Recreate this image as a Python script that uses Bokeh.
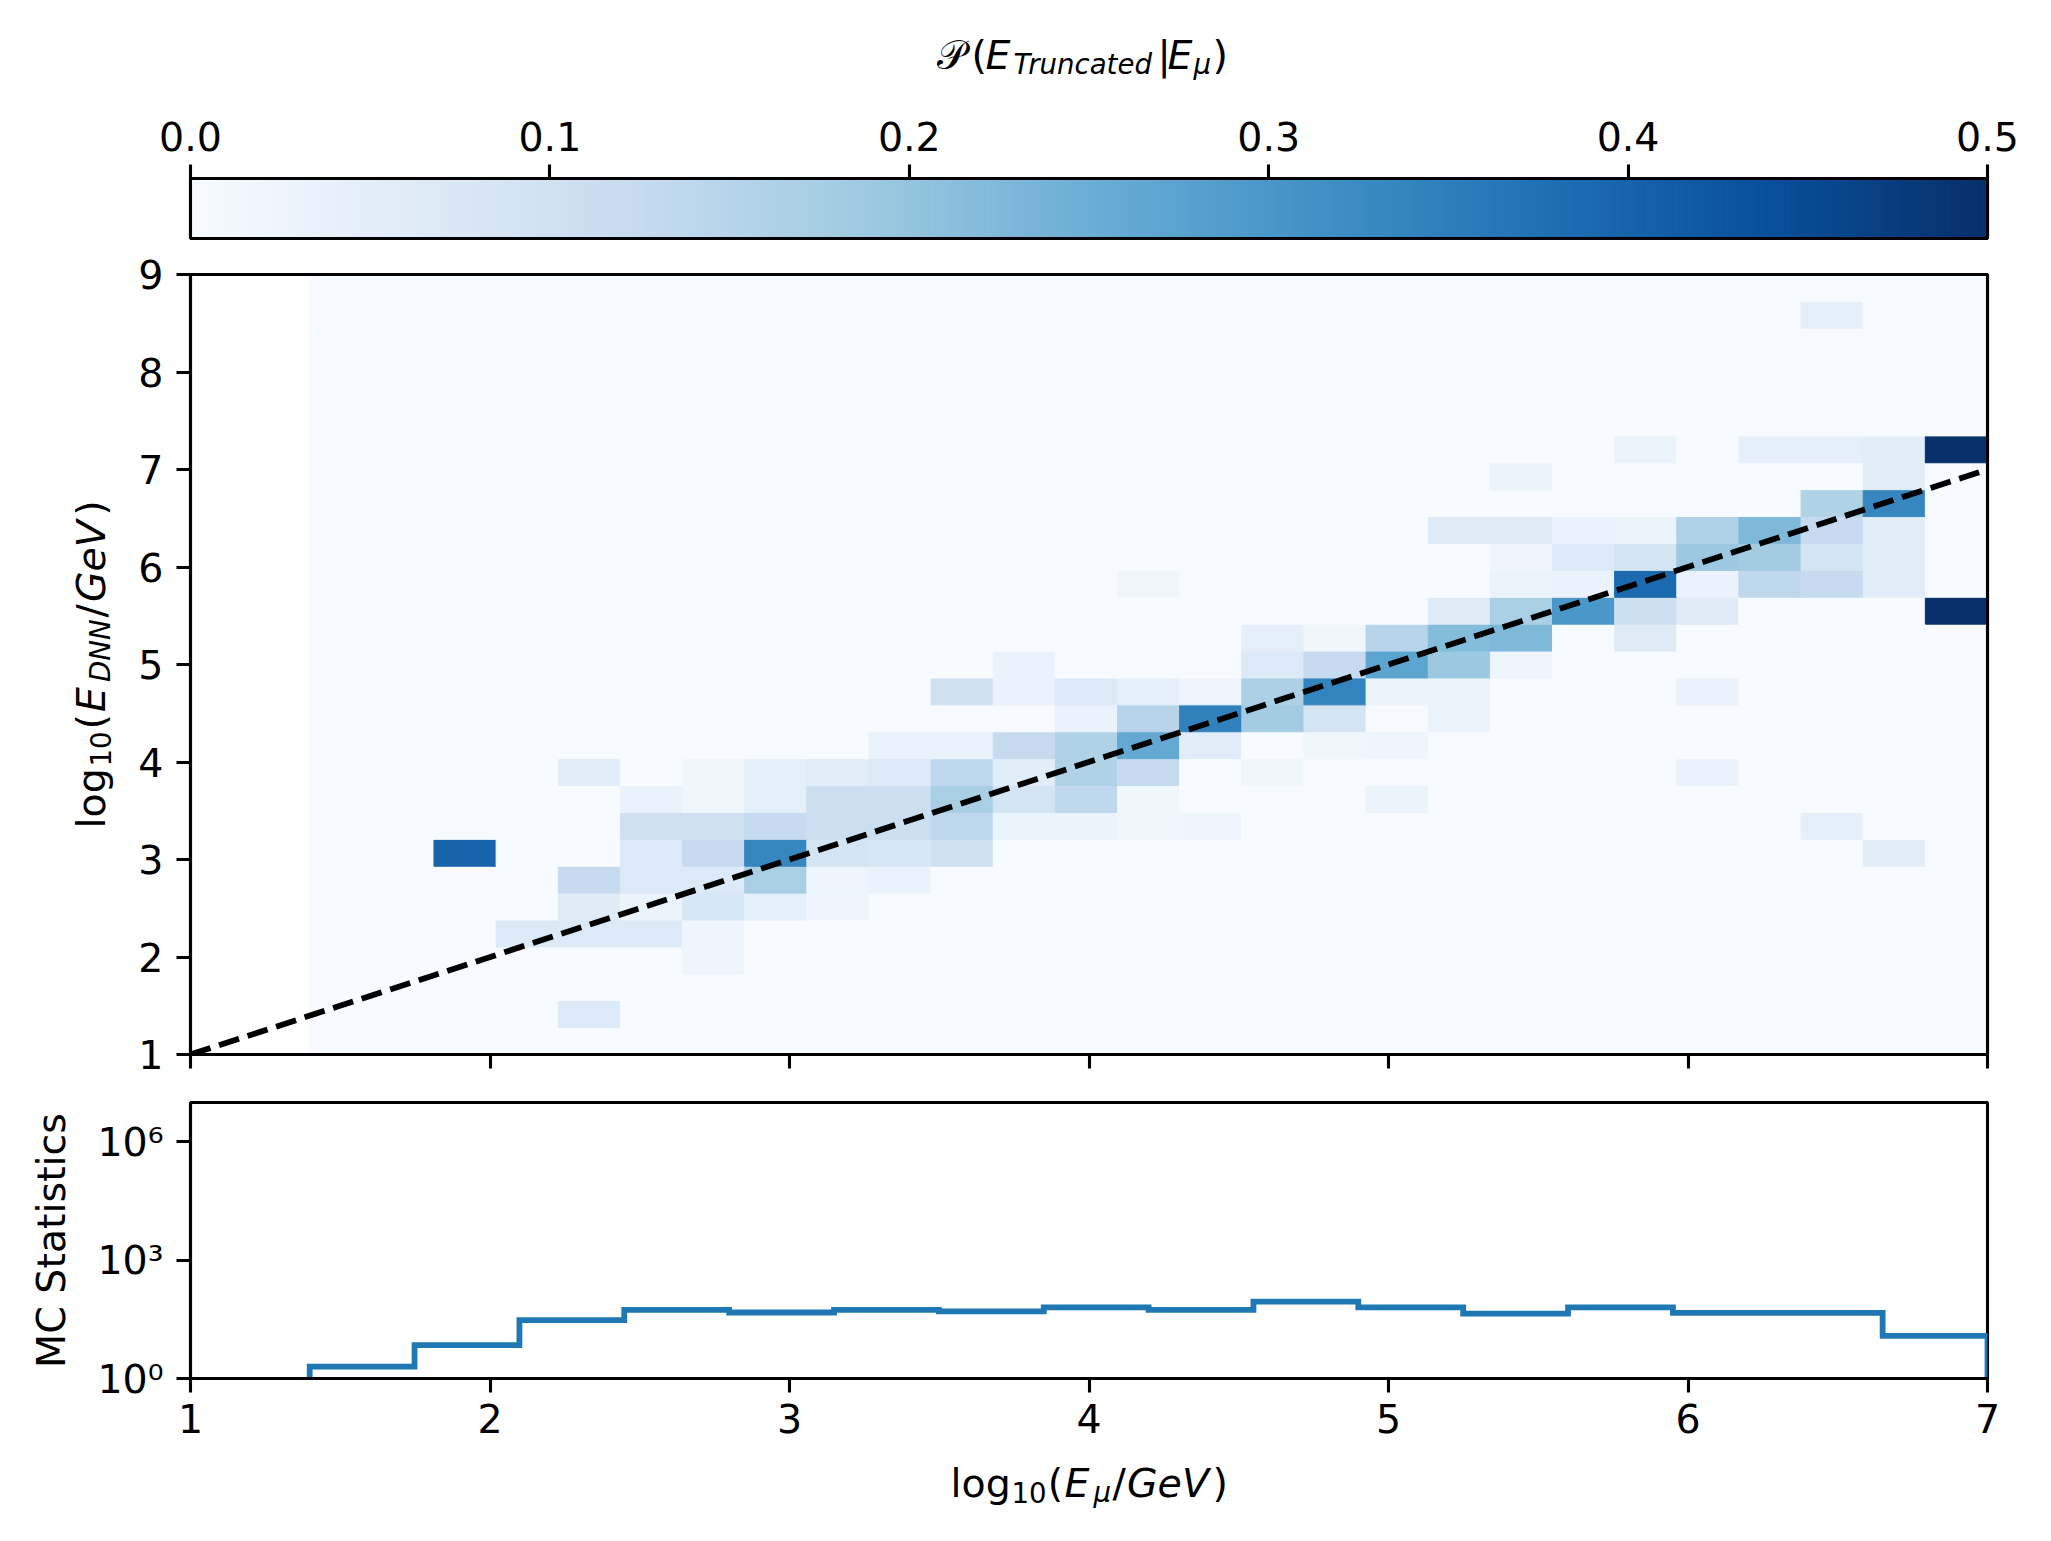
import numpy as np
from bokeh.plotting import figure
from bokeh.models import (ColumnDataSource, LinearColorMapper, FixedTicker, Label, LinearAxis,
                          Range1d, PrintfTickFormatter, CustomJSTickFormatter)
from bokeh.layouts import column, row
from bokeh.transform import transform
from bokeh.embed import file_html
from bokeh.resources import INLINE

# ---------------- data ----------------
x_bin_lo, x_bin_hi, n_x_bins = 1.398, 7.0, 27      # log10(E_mu/GeV) bins of the 2D histogram
y_bin_lo, y_bin_hi, n_y_bins = 1.0, 9.0, 29        # log10(E_DNN/GeV) bins

# non-empty cells: column index, row index, conditional probability
cell_col = [2,
            3,
            4, 4, 4, 4, 4,
            5, 5, 5, 5, 5, 5,
            6, 6, 6, 6, 6, 6, 6, 6,
            7, 7, 7, 7, 7, 7,
            8, 8, 8, 8, 8, 8,
            9, 9, 9, 9, 9, 9,
            10, 10, 10, 10, 10, 10,
            11, 11, 11, 11, 11, 11,
            12, 12, 12, 12, 12, 12,
            13, 13, 13, 13, 13, 13, 13,
            14, 14, 14, 14,
            15, 15, 15, 15, 15,
            16, 16, 16, 16, 16,
            17, 17, 17, 17, 17,
            18, 18, 18, 18, 18, 18,
            19, 19, 19, 19, 19, 19, 19,
            20, 20, 20, 20,
            21, 21, 21, 21, 21, 21,
            22, 22, 22, 22, 22, 22,
            23, 23, 23, 23,
            24, 24, 24, 24, 24, 24, 24,
            25, 25, 25, 25, 25, 25, 25,
            26, 26]
cell_row = [7,
            4,
            1, 4, 5, 6, 10,
            4, 5, 6, 7, 8, 9,
            3, 4, 5, 6, 7, 8, 9, 10,
            5, 6, 7, 8, 9, 10,
            5, 6, 7, 8, 9, 10,
            6, 7, 8, 9, 10, 11,
            7, 8, 9, 10, 11, 13,
            8, 9, 10, 11, 13, 14,
            8, 9, 10, 11, 12, 13,
            8, 9, 10, 11, 12, 13, 17,
            8, 11, 12, 13,
            10, 12, 13, 14, 15,
            11, 12, 13, 14, 15,
            9, 11, 13, 14, 15,
            12, 13, 14, 15, 16, 19,
            14, 15, 16, 17, 18, 19, 21,
            16, 17, 18, 19,
            15, 16, 17, 18, 19, 22,
            10, 13, 16, 17, 18, 19,
            17, 18, 19, 22,
            8, 17, 18, 19, 20, 22, 27,
            7, 17, 18, 19, 20, 21, 22,
            16, 22]
cell_prob = [0.40,
             0.07,
             0.07, 0.07, 0.06, 0.125, 0.055,
             0.07, 0.03, 0.07, 0.07, 0.105, 0.035,
             0.025, 0.025, 0.08, 0.07, 0.125, 0.105, 0.02, 0.02,
             0.045, 0.17, 0.335, 0.125, 0.045, 0.045,
             0.025, 0.025, 0.09, 0.11, 0.11, 0.055,
             0.035, 0.08, 0.11, 0.11, 0.07, 0.035,
             0.105, 0.135, 0.17, 0.135, 0.035, 0.105,
             0.03, 0.09, 0.055, 0.125, 0.035, 0.035,
             0.03, 0.135, 0.16, 0.16, 0.035, 0.07,
             0.02, 0.02, 0.125, 0.26, 0.15, 0.045, 0.02,
             0.025, 0.055, 0.345, 0.025,
             0.02, 0.18, 0.165, 0.07, 0.045,
             0.02, 0.09, 0.34, 0.125, 0.02,
             0.03, 0.025, 0.03, 0.27, 0.15,
             0.03, 0.03, 0.19, 0.22, 0.0625, 0.0625,
             0.025, 0.225, 0.17, 0.03, 0.025, 0.0625, 0.03,
             0.30, 0.035, 0.07, 0.035,
             0.0625, 0.11, 0.39, 0.09, 0.03, 0.03,
             0.035, 0.035, 0.0625, 0.035, 0.19, 0.16,
             0.135, 0.18, 0.225, 0.045,
             0.045, 0.125, 0.09, 0.125, 0.16, 0.045, 0.045,
             0.055, 0.055, 0.055, 0.055, 0.335, 0.055, 0.055,
             0.5, 0.5]

hist_lo, hist_hi, n_hist_bins = 1.398, 7.0, 16
mc_counts = [2, 7, 30, 55, 47, 55, 50, 63, 55, 88, 63, 44, 63, 46, 46, 12]

diagonal = [1, 7]
x_ticks = [1, 2, 3, 4, 5, 6, 7]
y_ticks = [1, 2, 3, 4, 5, 6, 7, 8, 9]
cbar_ticks = [0.0, 0.1, 0.2, 0.3, 0.4, 0.5]
cbar_low, cbar_high = 0.0, 0.5
mc_ticks = [1, 1000, 1000000]
mc_tick_labels = ["10\u2070", "10\u00b3", "10\u2076"]

# ---------------- style ----------------
FONT = "DejaVu Sans"
FS = 39.5
SUB = 27.6
LW = 3.1
K_BASE = 0.34     # distance from text centre to alphabetic baseline, in font sizes
blues9 = ['#f7fbff', '#deebf7', '#c6dbef', '#9ecae1', '#6baed6',
          '#4292c6', '#2171b5', '#08519c', '#08306b']


def interp_palette(anchors, n):
    rgb = np.array([[int(c[i:i + 2], 16) for i in (1, 3, 5)] for c in anchors], float)
    pos = np.linspace(0, 1, len(anchors))
    t = np.linspace(0, 1, n)
    out = []
    for v in t:
        r, g, b = (np.interp(v, pos, rgb[:, k]) for k in range(3))
        out.append('#%02x%02x%02x' % (int(round(r)), int(round(g)), int(round(b))))
    return out


palette = interp_palette(blues9, 256)
mapper = LinearColorMapper(palette=palette, low=cbar_low, high=cbar_high)

# page geometry (page pixels, top-left origin)
FW = 1797
FRAME_LEFT = 190
FRAME_RIGHT = FRAME_LEFT + FW
RIGHT = 40
TOP_H = 100                       # strip holding the colour-bar title
F1_TOP, F1_H, F1_BOT = 78, 60, 12
F2_TOP, F2_H, F2_BOT = 24, 780, 24
F3_TOP, F3_H, F3_BOT = 24, 276, 75
BOT_H = 72                        # strip holding the x-axis title
L2 = 120                          # strip left of the 2D histogram (y title)
L3 = 80                           # strip left of the MC panel (y title)

f1_h = F1_TOP + F1_H + F1_BOT
f2_h = F2_TOP + F2_H + F2_BOT
f3_h = F3_TOP + F3_H + F3_BOT
row2_top = TOP_H + f1_h
row3_top = row2_top + f2_h
bot_top = row3_top + f3_h
f2_frame = (row2_top + F2_TOP, row2_top + F2_TOP + F2_H)
f3_frame = (row3_top + F3_TOP, row3_top + F3_TOP + F3_H)

mc_top = 10 ** 6.99


def style_axis(ax):
    ax.axis_line_color = "black"
    ax.axis_line_width = LW
    ax.major_tick_line_color = "black"
    ax.major_tick_line_width = LW
    ax.major_tick_out = 14
    ax.major_tick_in = 0
    ax.minor_tick_line_color = None
    ax.major_label_text_font = FONT
    ax.major_label_text_font_size = f"{FS}px"
    ax.major_label_text_color = "black"


def add_spine(p, side):
    ax = LinearAxis(ticker=FixedTicker(ticks=[]), axis_line_color="black", axis_line_width=LW,
                    major_tick_out=0, major_tick_in=0, minor_tick_out=0, minor_tick_in=0,
                    major_label_text_font_size="1px", major_label_standoff=0)
    p.add_layout(ax, side)


def base_fig(fh, left, top, bot, **kw):
    p = figure(frame_width=FW, frame_height=fh,
               min_border_left=left, min_border_right=RIGHT,
               min_border_top=top, min_border_bottom=bot, toolbar_location=None,
               output_backend="svg", title=None, background_fill_color="white",
               border_fill_color="white", **kw)
    p.outline_line_color = "black"
    p.outline_line_width = LW
    p.outline_line_alpha = 1.0
    p.xgrid.visible = False
    p.ygrid.visible = False
    return p


def text_strip(x0, x1, y0, y1, left=0, right=0, top=0, bottom=0):
    """Empty plot whose frame spans page pixels x0..x1, y0..y1 (data = page pixels, y negated)."""
    p = figure(frame_width=int(x1 - x0), frame_height=int(y1 - y0),
               x_range=Range1d(x0, x1), y_range=Range1d(-y1, -y0),
               min_border_left=left, min_border_right=right,
               min_border_top=top, min_border_bottom=bottom, toolbar_location=None,
               output_backend="svg", title=None, x_axis_location=None, y_axis_location=None,
               background_fill_color="white", border_fill_color="white")
    p.outline_line_color = None
    p.xgrid.visible = False
    p.ygrid.visible = False
    return p


def add_text(p, page_x, page_y, text, size=FS, style="normal", rotated=False, align="left"):
    """Place text so that its alphabetic baseline passes through (page_x, page_y)."""
    if rotated:
        x, y, ang = page_x - K_BASE * size, -page_y, np.pi / 2
    else:
        x, y, ang = page_x, -page_y + K_BASE * size, 0.0
    p.add_layout(Label(x=x, y=y, text=text, text_font=FONT, text_font_size=f"{size}px",
                       text_font_style=style, angle=ang, text_align=align,
                       text_baseline="alphabetic", text_color="black"))


# ---------------- colour-bar title strip ----------------
top_strip = text_strip(FRAME_LEFT, FRAME_RIGHT, 0, TOP_H, left=FRAME_LEFT, right=RIGHT)
cb_base = 68   # baseline, page pixels
cbar_label = [("\U0001D4AB", FS, "normal", 936, 0), ("(", FS, "normal", 971, 0),
              ("E", FS, "italic", 985, 0), ("Truncated", SUB, "italic", 1013, 5),
              ("|", FS, "normal", 1157, 0), ("E", FS, "italic", 1167, 0),
              ("\u03bc", SUB, "italic", 1193, 5), (")", FS, "normal", 1212, 0)]
for txt, sz, st, px, dy in cbar_label:
    add_text(top_strip, px, cb_base + dy, txt, sz, st)

# ---------------- colour bar ----------------
f1 = base_fig(F1_H, FRAME_LEFT, F1_TOP, F1_BOT, x_range=Range1d(cbar_low, cbar_high),
              y_range=Range1d(0, 1), x_axis_location="above", y_axis_location=None)
grad_edges = np.linspace(cbar_low, cbar_high, len(palette) + 1)
grad_src = ColumnDataSource(dict(left=grad_edges[:-1], right=grad_edges[1:],
                                 val=0.5 * (grad_edges[:-1] + grad_edges[1:])))
f1.quad(left="left", right="right", bottom=0, top=1, source=grad_src,
        fill_color=transform("val", mapper), line_color=transform("val", mapper), line_width=1)
f1.xaxis.ticker = FixedTicker(ticks=cbar_ticks)
f1.xaxis.formatter = PrintfTickFormatter(format="%.1f")
style_axis(f1.xaxis[0])
f1.xaxis.major_label_standoff = 14
for side in ("below", "left", "right"):
    add_spine(f1, side)

# ---------------- 2D histogram ----------------
f2 = base_fig(F2_H, FRAME_LEFT - L2, F2_TOP, F2_BOT, x_range=Range1d(1, 7), y_range=Range1d(1, 9))
x_edges = np.linspace(x_bin_lo, x_bin_hi, n_x_bins + 1)
y_edges = np.linspace(y_bin_lo, y_bin_hi, n_y_bins + 1)
Z = np.zeros((n_y_bins, n_x_bins))
for ci, ri, v in zip(cell_col, cell_row, cell_prob):
    Z[ri, ci] = v
jj, ii = np.meshgrid(np.arange(n_y_bins), np.arange(n_x_bins), indexing="ij")
heat_src = ColumnDataSource(dict(left=x_edges[ii.ravel()], right=x_edges[ii.ravel() + 1],
                                 bottom=y_edges[jj.ravel()], top=y_edges[jj.ravel() + 1],
                                 val=Z.ravel()))
f2.quad(left="left", right="right", bottom="bottom", top="top", source=heat_src,
        fill_color=transform("val", mapper), line_color=transform("val", mapper), line_width=1)
f2.line(diagonal, diagonal, line_color="black", line_width=5.8, line_dash="21 9", line_cap="butt")
f2.xaxis.ticker = FixedTicker(ticks=x_ticks)
f2.yaxis.ticker = FixedTicker(ticks=y_ticks)
style_axis(f2.xaxis[0])
style_axis(f2.yaxis[0])
f2.xaxis.major_label_text_font_size = "1px"
f2.xaxis.major_label_text_alpha = 0
f2.xaxis.major_label_standoff = 0
f2.yaxis.major_label_standoff = 13
for side in ("above", "right"):
    add_spine(f2, side)

left2 = text_strip(0, L2, f2_frame[0], f2_frame[1], top=F2_TOP, bottom=F2_BOT)
ylab_base_x, ylab_start_y = 103.6, 828     # page pixels
ylab = [("log", FS, "normal", 0, 0), ("10", SUB, "normal", 61.9, 6), ("(", FS, "normal", 99.0, 0),
        ("E", FS, "italic", 116.6, 0), ("DNN", SUB, "italic", 146.6, 6), ("/", FS, "normal", 210.9, 0),
        ("GeV", FS, "italic", 226.4, 0), (")", FS, "normal", 312.7, 0)]
for txt, sz, st, along, perp in ylab:
    add_text(left2, ylab_base_x + perp, ylab_start_y - along, txt, sz, st, rotated=True)

# ---------------- MC statistics ----------------
f3 = base_fig(F3_H, FRAME_LEFT - L3, F3_TOP, F3_BOT, x_range=Range1d(1, 7),
              y_range=Range1d(1, mc_top), y_axis_type="log")
h_edges = np.linspace(hist_lo, hist_hi, n_hist_bins + 1)
step_x = [h_edges[0]]
step_y = [1.0]
for k, c in enumerate(mc_counts):
    step_x += [h_edges[k], h_edges[k + 1]]
    step_y += [c, c]
step_x.append(h_edges[-1])
step_y.append(1.0)
f3.line(step_x, step_y, line_color="#1f77b4", line_width=5.8, line_join="miter")
f3.xaxis.ticker = FixedTicker(ticks=x_ticks)
f3.yaxis.ticker = FixedTicker(ticks=mc_ticks)
f3.yaxis.formatter = CustomJSTickFormatter(args=dict(vals=mc_ticks, labs=mc_tick_labels), code="""
    for (let i = 0; i < vals.length; i++) {
        if (Math.abs(Math.log10(tick) - Math.log10(vals[i])) < 1e-6) { return labs[i]; }
    }
    return '';
""")
style_axis(f3.xaxis[0])
style_axis(f3.yaxis[0])
f3.xaxis.major_label_standoff = 11
f3.yaxis.major_label_standoff = 13

left3 = text_strip(0, L3, f3_frame[0], f3_frame[1], top=F3_TOP, bottom=F3_BOT)
add_text(left3, 63.8, (f3_frame[0] + f3_frame[1]) / 2, "MC Statistics", FS, "normal",
         rotated=True, align="center")

# ---------------- x-axis title strip ----------------
bot_strip = text_strip(FRAME_LEFT, FRAME_RIGHT, bot_top, bot_top + BOT_H, left=FRAME_LEFT, right=RIGHT)
xlab_start, xlab_base = 950, 1495.7      # page pixels
xlab = [("log", FS, "normal", 0, 0), ("10", SUB, "normal", 61.0, 6), ("(", FS, "normal", 97.2, 0),
        ("E", FS, "italic", 113.9, 0), ("\u03bc", SUB, "italic", 143.0, 6), ("/", FS, "normal", 161.9, 0),
        ("GeV", FS, "italic", 176.5, 0), (")", FS, "normal", 261.9, 0)]
for txt, sz, st, dx, dy in xlab:
    add_text(bot_strip, xlab_start + dx, xlab_base + dy, txt, sz, st)

layout = column(top_strip, f1, row(left2, f2), row(left3, f3), bot_strip)
open("out.html", "w").write(file_html(layout, INLINE))
